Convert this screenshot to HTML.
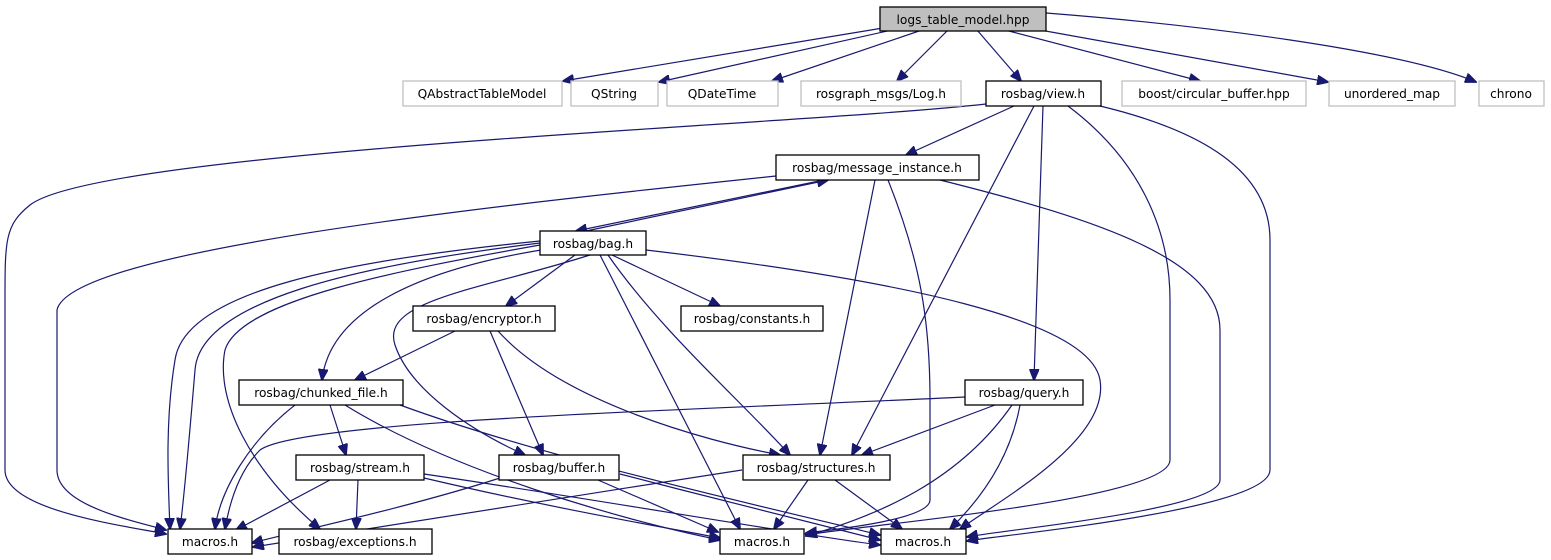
<!DOCTYPE html>
<html><head><meta charset="utf-8"><style>
html,body{margin:0;padding:0;background:#fff;}
svg{display:block;}
text{font-family:"DejaVu Sans","Liberation Sans",sans-serif;font-size:12.2px;fill:#000;text-anchor:middle;}
.e{fill:none;stroke:#191970;stroke-width:1.2;marker-end:url(#a);}
.n{fill:#fff;stroke:#000;stroke-width:1.3;}
.g{fill:#fff;stroke:#bfbfbf;stroke-width:1.3;}
</style></head><body>
<svg width="1551" height="560" viewBox="0 0 1551 560" xmlns="http://www.w3.org/2000/svg">
<defs><marker id="a" markerWidth="12" markerHeight="10" refX="11" refY="5" orient="auto" markerUnits="userSpaceOnUse"><path d="M0,0 L12,5 L0,10 z" fill="#191970" stroke="#191970"/></marker></defs>
<path class="e" d="M883,28 L563,81"/>
<path class="e" d="M892,30 L659,82"/>
<path class="e" d="M922,30 L772,81"/>
<path class="e" d="M948,30 L897,81"/>
<path class="e" d="M977,30 L1021,81"/>
<path class="e" d="M1005,30 L1200,81"/>
<path class="e" d="M1040,30 L1328,82"/>
<path class="e" d="M1046,13 C1200,25 1400,50 1476,82"/>
<path class="e" d="M986,104 C800,125 100,150 30,205 C5,225 5,240 5,300 L5,470 C5,510 120,525 166,534"/>
<path class="e" d="M1014,106 L906,155"/>
<path class="e" d="M1034,106 L852,455"/>
<path class="e" d="M1043,106 C1040,200 1036,300 1034,380"/>
<path class="e" d="M1068,106 C1140,160 1170,230 1170,300 L1170,460 C1170,500 860,525 806,535"/>
<path class="e" d="M1100,106 C1200,130 1270,170 1270,240 L1270,470 C1270,510 1000,535 967,541"/>
<path class="e" d="M776,176 C500,205 70,250 57,310 L57,470 C57,505 130,520 166,530"/>
<path class="e" d="M824,180 L576,231"/>
<path class="e" d="M586,231 L828,180"/>
<path class="e" d="M875,180 L820,455"/>
<path class="e" d="M888,180 C920,260 930,320 930,400 L930,500 C930,520 830,530 806,533"/>
<path class="e" d="M940,180 C1100,220 1220,260 1220,330 L1220,480 C1220,510 1000,530 967,537"/>
<path class="e" d="M540,241 C350,260 185,290 175,360 C165,420 168,480 170,529"/>
<path class="e" d="M540,243 C360,265 200,300 195,370 C190,430 185,490 180,529"/>
<path class="e" d="M540,245 C400,270 240,300 225,350 C215,400 250,470 320,529"/>
<path class="e" d="M541,250 C420,270 330,310 322,380"/>
<path class="e" d="M575,255 L506,306"/>
<path class="e" d="M590,255 C480,290 380,300 395,345 C410,390 470,430 525,455"/>
<path class="e" d="M612,255 L720,306"/>
<path class="e" d="M600,255 L740,529"/>
<path class="e" d="M608,255 C660,330 740,400 790,455"/>
<path class="e" d="M646,250 C900,280 1090,320 1100,380 C1110,440 1000,500 960,529"/>
<path class="e" d="M455,331 L355,380"/>
<path class="e" d="M490,331 L543,455"/>
<path class="e" d="M498,331 C560,400 700,440 780,455"/>
<path class="e" d="M295,405 C250,440 220,490 215,529"/>
<path class="e" d="M330,405 L346,455"/>
<path class="e" d="M345,405 C450,470 620,520 720,540"/>
<path class="e" d="M400,405 C550,460 780,510 880,535"/>
<path class="e" d="M965,397 C700,410 300,420 260,450 C240,470 230,500 225,529"/>
<path class="e" d="M995,405 L862,455"/>
<path class="e" d="M1012,405 C960,480 880,515 806,536"/>
<path class="e" d="M1020,405 C1010,460 980,500 950,529"/>
<path class="e" d="M330,480 L236,530"/>
<path class="e" d="M358,480 L356,529"/>
<path class="e" d="M424,478 C560,510 680,530 720,538"/>
<path class="e" d="M424,474 C600,500 800,535 880,545"/>
<path class="e" d="M500,478 C400,510 280,535 252,543"/>
<path class="e" d="M598,480 L718,532"/>
<path class="e" d="M620,474 C720,500 840,530 880,540"/>
<path class="e" d="M742,470 C550,500 320,535 253,547"/>
<path class="e" d="M808,480 L774,529"/>
<path class="e" d="M835,480 L902,529"/>
<rect x="880" y="7" width="166" height="24" fill="#bfbfbf" stroke="#000" stroke-width="1.3"/><text x="963" y="24">logs_table_model.hpp</text>
<rect class="g" x="403" y="81" width="159" height="25"/><text x="482" y="98">QAbstractTableModel</text>
<rect class="g" x="571" y="81" width="87" height="25"/><text x="614" y="98">QString</text>
<rect class="g" x="667" y="81" width="111" height="25"/><text x="722" y="98">QDateTime</text>
<rect class="g" x="801" y="81" width="160" height="25"/><text x="881" y="98">rosgraph_msgs/Log.h</text>
<rect class="n" x="986" y="81" width="115" height="25"/><text x="1043" y="98">rosbag/view.h</text>
<rect class="g" x="1122" y="81" width="184" height="25"/><text x="1214" y="98">boost/circular_buffer.hpp</text>
<rect class="g" x="1329" y="81" width="126" height="25"/><text x="1392" y="98">unordered_map</text>
<rect class="g" x="1479" y="81" width="65" height="25"/><text x="1511" y="98">chrono</text>
<rect class="n" x="776" y="155" width="203" height="25"/><text x="877" y="172">rosbag/message_instance.h</text>
<rect class="n" x="540" y="231" width="106" height="24"/><text x="593" y="248">rosbag/bag.h</text>
<rect class="n" x="413" y="306" width="142" height="25"/><text x="484" y="323">rosbag/encryptor.h</text>
<rect class="n" x="681" y="306" width="142" height="25"/><text x="752" y="323">rosbag/constants.h</text>
<rect class="n" x="239" y="380" width="164" height="25"/><text x="321" y="397">rosbag/chunked_file.h</text>
<rect class="n" x="965" y="380" width="118" height="25"/><text x="1024" y="397">rosbag/query.h</text>
<rect class="n" x="296" y="455" width="128" height="25"/><text x="360" y="472">rosbag/stream.h</text>
<rect class="n" x="499" y="455" width="120" height="25"/><text x="559" y="472">rosbag/buffer.h</text>
<rect class="n" x="743" y="455" width="147" height="25"/><text x="816" y="472">rosbag/structures.h</text>
<rect class="n" x="168" y="529" width="84" height="25"/><text x="210" y="546">macros.h</text>
<rect class="n" x="279" y="529" width="153" height="25"/><text x="355" y="546">rosbag/exceptions.h</text>
<rect class="n" x="720" y="529" width="84" height="25"/><text x="762" y="546">macros.h</text>
<rect class="n" x="881" y="529" width="85" height="25"/><text x="923" y="546">macros.h</text>
</svg>
</body></html>
